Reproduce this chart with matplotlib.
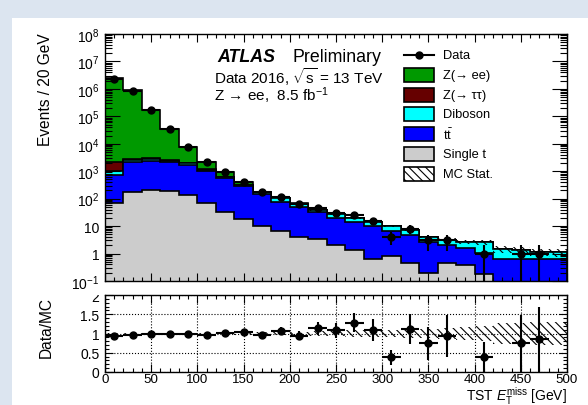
import numpy as np
import matplotlib
matplotlib.use('Agg')
import matplotlib.pyplot as plt
from matplotlib.patches import Rectangle
from matplotlib.lines import Line2D
from matplotlib.ticker import FixedLocator, LogLocator, MultipleLocator, FuncFormatter, NullFormatter

plt.rcParams['font.family'] = ['Liberation Sans', 'DejaVu Sans']
plt.rcParams['mathtext.fontset'] = 'custom'
plt.rcParams['mathtext.rm'] = 'Liberation Sans'
plt.rcParams['mathtext.it'] = 'Liberation Sans:italic'
plt.rcParams['mathtext.bf'] = 'Liberation Sans:bold'
plt.rcParams['hatch.linewidth'] = 0.8

# binning: 25 bins of 20 GeV
bin_edges = np.arange(0, 520, 20)

# stacked MC yields per bin (bottom to top)
single_top = [69, 170, 213, 190, 135, 70, 32, 18, 10, 6.5, 4.1, 3.3, 2.1, 1.3, 0.63,
              0.79, 0.45, 0.2, 0.46, 0.37, 0.18, 0, 0, 0, 0]
ttbar = [690, 1930, 2090, 1910, 1620, 980, 530, 277, 138, 71, 44, 28.7, 17.4, 13.2, 9.2,
         6.0, 4.45, 2.4, 1.64, 1.23, 0.87, 0.63, 0.62, 0.63, 0.66]
diboson = [240, 500, 600, 350, 200, 90, 45, 28, 22, 27, 18, 6, 7.8, 5.5, 3.8,
           3.35, 2.2, 1.43, 1.1, 1.1, 1.5, 0.82, 0.73, 0.55, 0.44]
z_tautau = [1100, 150, 150, 100, 50, 25, 10, 5, 2, 1, 0.5, 0.3, 0.2, 0.1, 0.1,
            0.05, 0.05, 0, 0, 0, 0, 0, 0, 0, 0]
z_ee = [2418000, 897000, 167000, 32450, 5800, 1055, 293, 67, 8, 4, 1.5, 0.6, 0.3, 0.2, 0.1,
        0.1, 0.05, 0.02, 0, 0, 0, 0, 0, 0, 0]

# observed data counts
data = [2250000, 864000, 170000, 34300, 7800, 2153, 919, 411, 175, 117, 64, 44, 30, 26, 15,
        4, 8, 3, 3, 0, 1, 0, 1, 1, 0]

# relative MC statistical uncertainty
mc_stat_rel = [0.004, 0.005, 0.008, 0.01, 0.015, 0.02, 0.025, 0.03, 0.035, 0.04, 0.05, 0.06,
               0.07, 0.08, 0.09, 0.1, 0.11, 0.12, 0.14, 0.17, 0.2, 0.27, 0.28, 0.29, 0.3]

layers = [
    (single_top, '#cccccc', 'Single t'),
    (ttbar, '#0000ff', r't$\bar{\mathrm{t}}$'),
    (diboson, '#00ffff', 'Diboson'),
    (z_tautau, '#660000', 'Z(→ ττ)'),
    (z_ee, '#009900', 'Z(→ ee)'),
]

W, H = 588, 406
fig = plt.figure(figsize=(W / 100, H / 100), dpi=100)
fig.patch.set_facecolor('#dce5f0')
fig.add_artist(Rectangle((12 / W, 0), 1, 1 - 19 / H, transform=fig.transFigure,
                         facecolor='white', edgecolor='none', zorder=-1))


def fx(x):
    return x / W


def fy(y):
    return 1 - y / H


ax = fig.add_axes([fx(105), fy(282), fx(567) - fx(105), fy(35) - fy(282)])
rax = fig.add_axes([fx(105), fy(373), fx(567) - fx(105), fy(296) - fy(373)])

edges = bin_edges.astype(float)
centers = 0.5 * (edges[:-1] + edges[1:])
half = 0.5 * (edges[1:] - edges[:-1])
floor = 1e-3

cum = np.cumsum([np.array(v, float) for v, _, _ in layers], axis=0)
for i in reversed(range(len(layers))):
    vals = np.where(cum[i] > 0, cum[i], floor)
    ax.stairs(vals, edges, baseline=floor, fill=True, facecolor=layers[i][1],
              edgecolor='black', linewidth=1.2)

total = cum[-1]
rel = np.array(mc_stat_rel)
hatch = '\\\\\\\\'
ax.stairs(total * (1 + rel), edges, baseline=total * (1 - rel), fill=True,
          facecolor='none', edgecolor='black', hatch=hatch, linewidth=0)

d = np.array(data, float)
m = d > 0
err = np.sqrt(d)
lo = np.minimum(err, d - floor)
ax.errorbar(centers[m], d[m], xerr=half[m], yerr=[lo[m], err[m]], fmt='o', color='black',
            ms=5, elinewidth=1.5, capsize=0, zorder=5)

ax.set_yscale('log')
ax.set_xlim(0, 500)
ax.set_ylim(0.1, 1e8)


def log_fmt(v, pos):
    e = int(round(np.log10(v)))
    if e == 0:
        return '1'
    if e == 1:
        return '10'
    return r'$10^{%d}$' % e


ax.yaxis.set_major_locator(FixedLocator(10.0 ** np.arange(-1, 9)))
ax.yaxis.set_major_formatter(FuncFormatter(log_fmt))
ax.yaxis.set_minor_locator(LogLocator(base=10, subs=np.arange(2, 10), numticks=50))
ax.yaxis.set_minor_formatter(NullFormatter())
ax.xaxis.set_major_locator(MultipleLocator(50))
ax.xaxis.set_minor_locator(MultipleLocator(10))
ax.tick_params(which='both', direction='in', top=True, right=True, labelbottom=False)
ax.tick_params(axis='x', which='major', length=5.8, width=0.8)
ax.tick_params(axis='x', which='minor', length=3, width=0.8)
ax.tick_params(axis='y', which='major', length=11, width=0.8, labelsize=10, pad=4)
ax.tick_params(axis='y', which='minor', length=5, width=0.8)
for s in ax.spines.values():
    s.set_linewidth(1)

# ratio panel
ratio = np.divide(d, total)
rerr = err / total
rax.stairs(1 + rel, edges, baseline=1 - rel, fill=True, facecolor='none',
           edgecolor='black', hatch=hatch, linewidth=0)
rax.errorbar(centers[m], ratio[m], xerr=half[m], yerr=rerr[m], fmt='o', color='black',
             ms=5, elinewidth=1.5, capsize=0, zorder=5)
rax.set_xlim(0, 500)
rax.set_ylim(0, 2)
rax.xaxis.set_major_locator(MultipleLocator(50))
rax.xaxis.set_minor_locator(MultipleLocator(10))
rax.yaxis.set_major_locator(MultipleLocator(0.5))
rax.yaxis.set_minor_locator(MultipleLocator(0.1))
rax.yaxis.set_major_formatter(FuncFormatter(lambda v, p: '%g' % v))
rax.grid(True, which='major', linestyle=':', color='black', linewidth=0.8)
rax.tick_params(which='both', direction='in', top=True, right=True)
rax.tick_params(which='major', length=5.8, width=0.8, labelsize=10)
rax.tick_params(which='minor', length=3, width=0.8)
rax.tick_params(axis='x', pad=1, labelsize=9.6)
rax.tick_params(axis='y', pad=4)
for s in rax.spines.values():
    s.set_linewidth(1)

# the top "2" label of the ratio axis is half hidden by the upper pad, as in the original
fig.add_artist(Rectangle((fx(86), fy(295.5)), fx(104) - fx(86), (295.5 - 290) / H,
                         transform=fig.transFigure, facecolor='white', edgecolor='none',
                         zorder=10))

# axis titles
fig.text(fx(46), fy(33), 'Events / 20 GeV', rotation=90, ha='center', va='top', fontsize=11.2)
fig.text(fx(46), fy(297), 'Data/MC', rotation=90, ha='center', va='top', fontsize=11.2)
fig.text(fx(567), fy(400.5), r'TST $E_{\mathrm{T}}^{\mathrm{miss}}$ [GeV]', ha='right',
         va='baseline', fontsize=10)

# ATLAS label
fig.text(fx(217), fy(62), 'ATLAS', fontsize=12.8, fontweight='bold', style='italic',
         va='baseline')
fig.text(fx(293), fy(62), 'Preliminary', fontsize=12.8, va='baseline')
fig.text(fx(214), fy(84), r'Data 2016, $\sqrt{\mathrm{s}}$ = 13 TeV', fontsize=11,
         va='baseline')
fig.text(fx(214), fy(101.5), r'Z → ee,  8.5 fb$^{\mathrm{-1}}$', fontsize=11, va='baseline')

# legend
row0, step = 56, 19.8
bx0, bx1, bh = 404, 434, 14
fig.add_artist(Line2D([fx(bx0), fx(bx1)], [fy(row0), fy(row0)], color='black', lw=1.5,
                      transform=fig.transFigure))
fig.add_artist(Line2D([fx((bx0 + bx1) / 2)], [fy(row0)], marker='o', ms=5, color='black',
                      transform=fig.transFigure))
fig.text(fx(443), fy(row0), 'Data', fontsize=9.3, va='center')
entries = [(c, lab, None) for _, c, lab in reversed(layers)] + [('none', 'MC Stat.', hatch)]
for k, (col, lab, h) in enumerate(entries):
    yc = row0 + step * (k + 1)
    fig.add_artist(Rectangle((fx(bx0), fy(yc + bh / 2)), fx(bx1) - fx(bx0), bh / H,
                             transform=fig.transFigure, facecolor=col, edgecolor='black',
                             linewidth=1.2, hatch=h, zorder=3))
    fig.text(fx(443), fy(yc), lab, fontsize=9.3, va='center')

fig.savefig('out.png', dpi=100, facecolor=fig.get_facecolor())
